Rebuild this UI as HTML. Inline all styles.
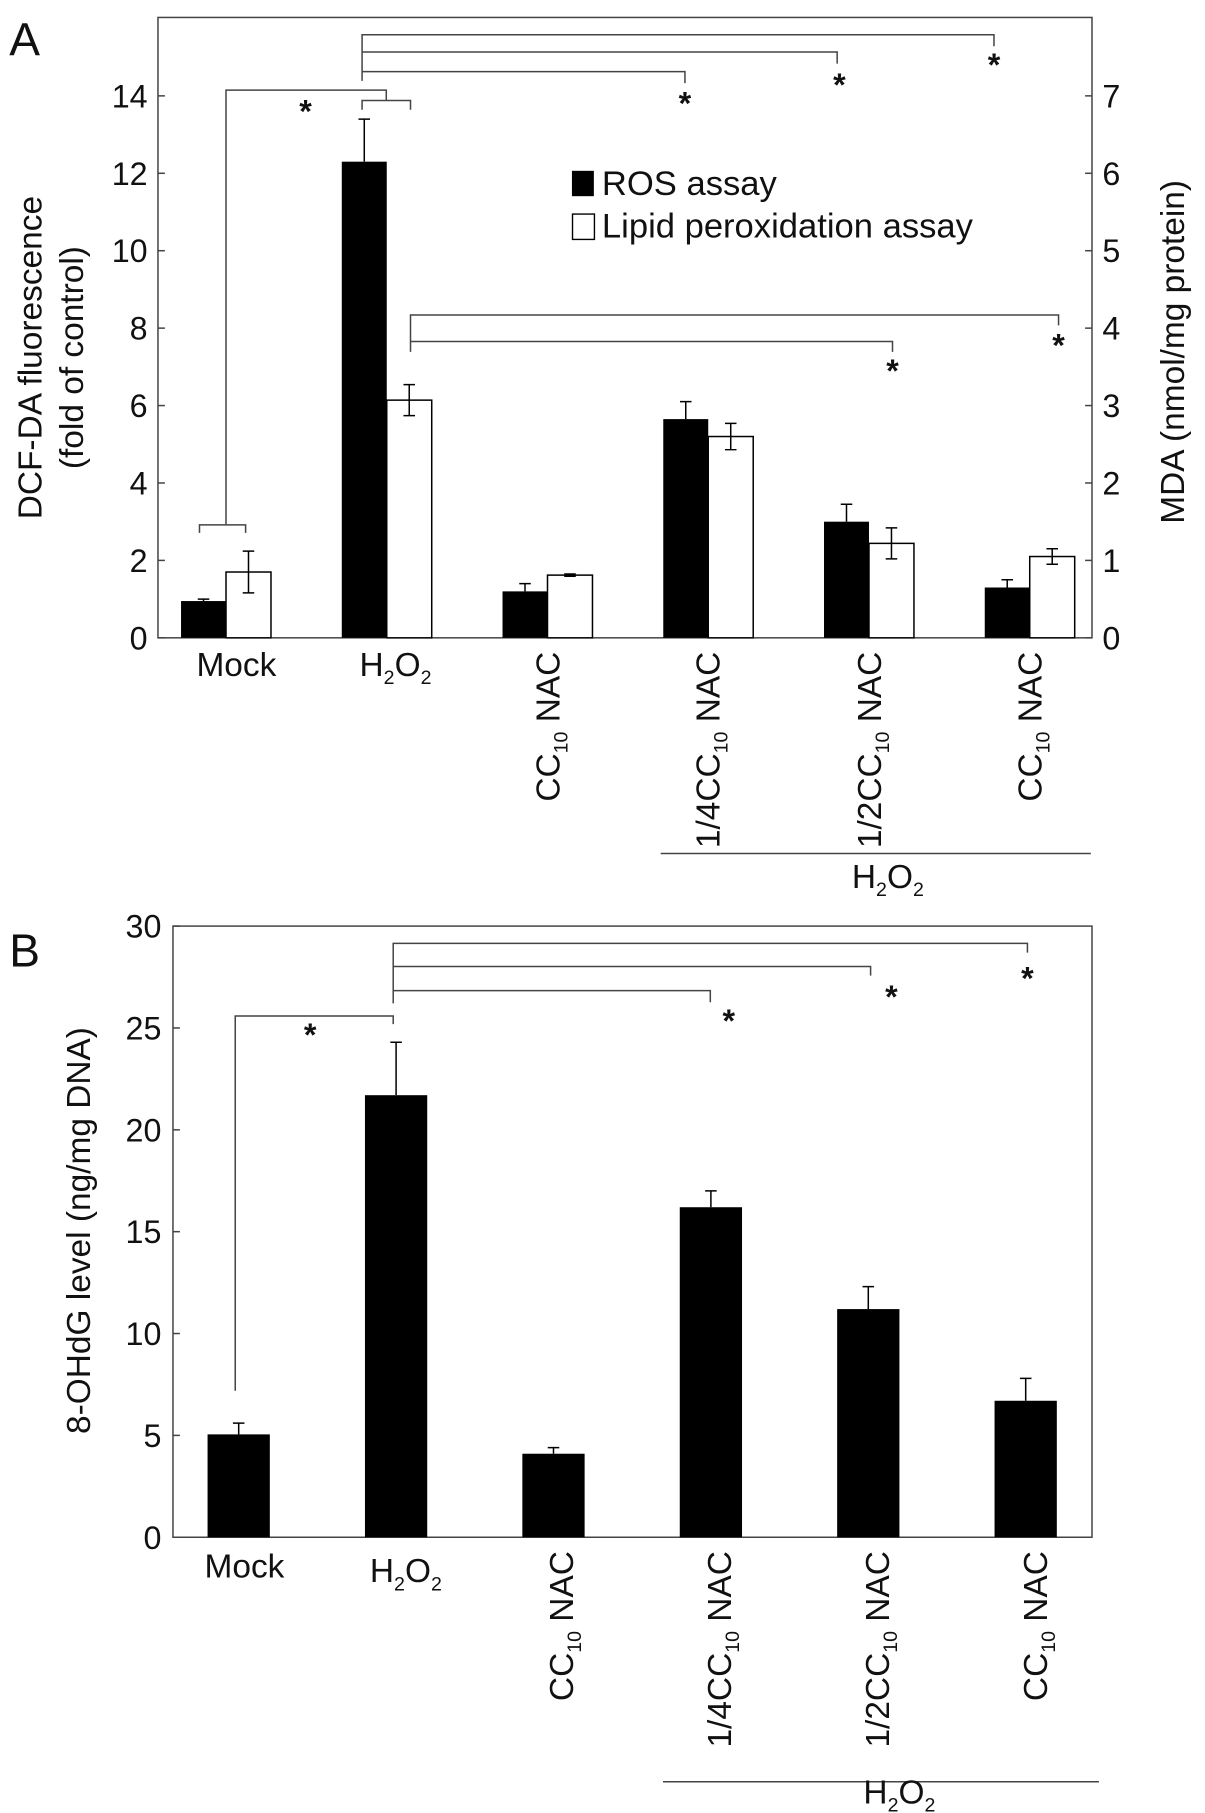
<!DOCTYPE html>
<html><head><meta charset="utf-8"><style>
html,body{margin:0;padding:0;background:#fff}
svg{display:block}
text{font-family:"Liberation Sans",Arial,sans-serif;fill:#111}
</style></head><body>
<svg id="fig" width="1205" height="1813" viewBox="0 0 1045 1572">
<g id="panelA">
<text x="8" y="48" font-size="40">A</text>
<rect x="137" y="15" width="810" height="538" fill="none" stroke="#444" stroke-width="1.3"/>
<text transform="translate(36,310) rotate(-90)" text-anchor="middle" font-size="29">DCF-DA fluorescence</text>
<text transform="translate(72,310) rotate(-90)" text-anchor="middle" font-size="29">(fold of control)</text>
<text transform="translate(1027,305) rotate(-90)" text-anchor="middle" font-size="29">MDA (nmol/mg protein)</text>
<g>
<rect x="496" y="148" width="19" height="22" fill="#000"/>
<text x="522" y="169" font-size="30">ROS assay</text>
<rect x="496.5" y="185.5" width="19" height="22" fill="#fff" stroke="#000" stroke-width="1.2"/>
<text x="522" y="206" font-size="30">Lipid peroxidation assay</text>
</g>
<g fill="none" stroke="#444" stroke-width="1.3">
<path d="M173,462 V455 H213 V462 M196,455 V78 H335 V87 M314,95 V87 H356 V95"/>
<path d="M314,70 V30 H862 V40 M314,45 H726 V55 M314,62 H594 V72"/>
<path d="M356,305 V273 H918 V282 M356,296 H774 V305"/>
</g>
<g font-size="28" font-weight="bold" text-anchor="middle">
<text x="265" y="106">*</text><text x="862" y="66">*</text><text x="728" y="83">*</text><text x="594" y="99">*</text><text x="918" y="309">*</text><text x="774" y="331">*</text>
</g>
<g id="axA"></g>
<g font-size="29">
<text x="205" y="586" text-anchor="middle">Mock</text>
<text x="343" y="586" text-anchor="middle">H<tspan font-size="17" dy="7">2</tspan><tspan dy="-7">O</tspan><tspan font-size="17" dy="7">2</tspan></text>
<text transform="translate(485,565) rotate(-90)" text-anchor="end">CC<tspan font-size="17" dy="7">10</tspan><tspan dy="-7"> NAC</tspan></text>
<text transform="translate(624,565) rotate(-90)" text-anchor="end">1/4CC<tspan font-size="17" dy="7">10</tspan><tspan dy="-7"> NAC</tspan></text>
<text transform="translate(764,565) rotate(-90)" text-anchor="end">1/2CC<tspan font-size="17" dy="7">10</tspan><tspan dy="-7"> NAC</tspan></text>
<text transform="translate(903,565) rotate(-90)" text-anchor="end">CC<tspan font-size="17" dy="7">10</tspan><tspan dy="-7"> NAC</tspan></text>
<line x1="573" y1="740" x2="946" y2="740" stroke="#444" stroke-width="1.3"/>
<text x="770" y="770" text-anchor="middle">H<tspan font-size="17" dy="7">2</tspan><tspan dy="-7">O</tspan><tspan font-size="17" dy="7">2</tspan></text>
</g>
</g>
<g id="panelB">
<text x="8" y="838" font-size="40">B</text>
<rect x="150" y="803" width="797" height="530" fill="none" stroke="#444" stroke-width="1.3"/>
<text transform="translate(78,1067) rotate(-90)" text-anchor="middle" font-size="29">8-OHdG level (ng/mg DNA)</text>
<g fill="none" stroke="#444" stroke-width="1.3">
<path d="M204,1206 V881 H341 V888 M341,870 V818 H891 V826 M341,838 H755 V846 M341,859 H616 V869"/>
</g>
<g font-size="28" font-weight="bold" text-anchor="middle">
<text x="269" y="907">*</text><text x="891" y="858">*</text><text x="773" y="874">*</text><text x="632" y="895">*</text>
</g>
<g id="axB"></g>
<g font-size="29">
<text x="212" y="1368" text-anchor="middle">Mock</text>
<text x="352" y="1372" text-anchor="middle">H<tspan font-size="17" dy="7">2</tspan><tspan dy="-7">O</tspan><tspan font-size="17" dy="7">2</tspan></text>
<text transform="translate(497,1345) rotate(-90)" text-anchor="end">CC<tspan font-size="17" dy="7">10</tspan><tspan dy="-7"> NAC</tspan></text>
<text transform="translate(634,1345) rotate(-90)" text-anchor="end">1/4CC<tspan font-size="17" dy="7">10</tspan><tspan dy="-7"> NAC</tspan></text>
<text transform="translate(771,1345) rotate(-90)" text-anchor="end">1/2CC<tspan font-size="17" dy="7">10</tspan><tspan dy="-7"> NAC</tspan></text>
<text transform="translate(908,1345) rotate(-90)" text-anchor="end">CC<tspan font-size="17" dy="7">10</tspan><tspan dy="-7"> NAC</tspan></text>
<line x1="575" y1="1545" x2="953" y2="1545" stroke="#444" stroke-width="1.3"/>
<text x="780" y="1564" text-anchor="middle">H<tspan font-size="17" dy="7">2</tspan><tspan dy="-7">O</tspan><tspan font-size="17" dy="7">2</tspan></text>
</g>
</g>
</svg>
<script>
const categories = ["Mock","H2O2","CC10 NAC","1/4CC10 NAC","1/2CC10 NAC","CC10 NAC (H2O2)"];
const rosValues = [0.95, 12.3, 1.2, 5.65, 3.0, 1.3];
const rosErrors = [0.05, 1.1, 0.2, 0.45, 0.45, 0.2];
const mdaValues = [0.85, 3.07, 0.81, 2.6, 1.22, 1.05];
const mdaErrors = [0.27, 0.2, 0.015, 0.17, 0.2, 0.1];
const ohdgValues = [5.05, 21.7, 4.1, 16.2, 11.2, 6.7];
const ohdgErrors = [0.55, 2.6, 0.3, 0.8, 1.1, 1.1];
const leftTicksA = [0,2,4,6,8,10,12,14];
const rightTicksA = [0,1,2,3,4,5,6,7];
const ticksB = [0,5,10,15,20,25,30];

const NS = "http://www.w3.org/2000/svg";
function mk(parent, tag, attrs, txt){
  const e = document.createElementNS(NS, tag);
  for (const k in attrs) e.setAttribute(k, attrs[k]);
  if (txt !== undefined) e.textContent = txt;
  parent.appendChild(e);
  return e;
}
const yA = v => 553 - v * (470/14);
const yA2 = v => 553 - v * (470/7);
const xA = i => 196 + i * 139.4;
const yB = v => 1333 - v * (530/30);
const xB = i => 207 + i * 136.5;

const gA = document.getElementById('axA');
const gB = document.getElementById('axB');

leftTicksA.forEach(t => {
  const l = mk(gA, 'line', {x1:137, x2:143, y1:yA(t), y2:yA(t), stroke:'#444', 'stroke-width':1.3});
  
  
  const tx = mk(gA, 'text', {x:128, y:yA(t)+10, 'text-anchor':'end', 'font-size':28}, String(t));
  
  
});
rightTicksA.forEach(t => {
  const l = mk(gA, 'line', {x1:941, x2:947, y1:yA2(t), y2:yA2(t), stroke:'#444', 'stroke-width':1.3});
  
  
  const tx = mk(gA, 'text', {x:956, y:yA2(t)+10, 'text-anchor':'start', 'font-size':28}, String(t));
  
  
});
categories.forEach((c, i) => {
  const cx = xA(i);
  const b = mk(gA, 'rect', {x:cx-39, y:yA(rosValues[i]), width:39, height:553-yA(rosValues[i]), fill:'#000'});
  
  
  const te = yA(rosValues[i] + rosErrors[i]);
  const e = mk(gA, 'path', {d:`M${cx-19.5},${yA(rosValues[i])} V${te} M${cx-24.5},${te} H${cx-14.5}`, stroke:'#000', 'stroke-width':1.3, fill:'none'});
  
  
  const w = mk(gA, 'rect', {x:cx, y:yA2(mdaValues[i]), width:39, height:553-yA2(mdaValues[i]), fill:'#fff', stroke:'#000', 'stroke-width':1.3});
  
  
  const t1 = yA2(mdaValues[i] + mdaErrors[i]), t2 = yA2(mdaValues[i] - mdaErrors[i]);
  const e2 = mk(gA, 'path', {d:`M${cx+19.5},${t2} V${t1} M${cx+14.5},${t1} H${cx+24.5} M${cx+14.5},${t2} H${cx+24.5}`, stroke:'#000', 'stroke-width':1.3, fill:'none'});
  
  
});
ticksB.forEach(t => {
  const l = mk(gB, 'line', {x1:150, x2:156, y1:yB(t), y2:yB(t), stroke:'#444', 'stroke-width':1.3});
  
  
  const tx = mk(gB, 'text', {x:140, y:yB(t)+10, 'text-anchor':'end', 'font-size':28}, String(t));
  
  
});
categories.forEach((c, i) => {
  const cx = xB(i);
  const b = mk(gB, 'rect', {x:cx-27, y:yB(ohdgValues[i]), width:54, height:1333-yB(ohdgValues[i]), fill:'#000'});
  
  
  const te = yB(ohdgValues[i] + ohdgErrors[i]);
  const e = mk(gB, 'path', {d:`M${cx},${yB(ohdgValues[i])} V${te} M${cx-5},${te} H${cx+5}`, stroke:'#000', 'stroke-width':1.3, fill:'none'});
  
  
});
</script>
</body></html>
